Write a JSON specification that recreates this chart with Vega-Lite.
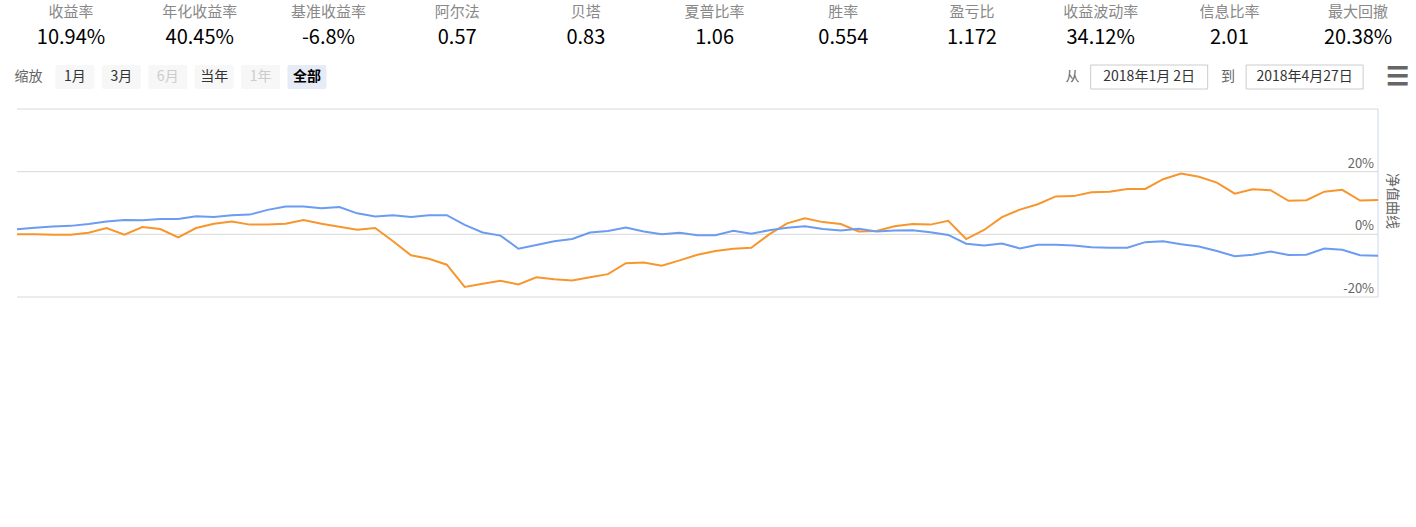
{
  "$schema": "https://vega.github.io/schema/vega-lite/v6.json",
  "padding": 0,
  "spacing": 0,
  "background": "white",
  "resolve": {"scale": {"color": "independent"}},
  "config": {
    "view": {"stroke": null},
    "font": "Noto Sans CJK SC",
    "text": {"font": "Noto Sans CJK SC"},
    "legend": {"labelFont": "Noto Sans CJK SC"}
  },
  "datasets": {
    "perf": [
      {"t":0,"s":0,"b":1.6,"h":0},{"t":1,"s":0,"b":2.1,"h":19},{"t":2,"s":-0.1,"b":2.5,"h":37},{"t":3,"s":-0.1,"b":2.7,"h":52},
      {"t":4,"s":0.5,"b":3.3,"h":66},{"t":5,"s":2,"b":4.1,"h":80},{"t":6,"s":-0.1,"b":4.6,"h":59},{"t":7,"s":2.3,"b":4.5,"h":63},
      {"t":8,"s":1.7,"b":4.9,"h":61},{"t":9,"s":-1,"b":4.9,"h":61},{"t":10,"s":2,"b":5.8,"h":66},{"t":11,"s":3.4,"b":5.5,"h":51},
      {"t":12,"s":4.1,"b":6.1,"h":64},{"t":13,"s":3.1,"b":6.3,"h":56},{"t":14,"s":3.1,"b":7.8,"h":54},{"t":15,"s":3.4,"b":8.9,"h":57},
      {"t":16,"s":4.6,"b":8.9,"h":48},{"t":17,"s":3.4,"b":8.3,"h":40},{"t":18,"s":2.4,"b":8.7,"h":59},{"t":19,"s":1.5,"b":6.7,"h":54},
      {"t":20,"s":2,"b":5.7,"h":54},{"t":21,"s":-2.2,"b":6.1,"h":63},{"t":22,"s":-6.7,"b":5.5,"h":55},{"t":23,"s":-7.8,"b":6.1,"h":66},
      {"t":24,"s":-9.7,"b":6.1,"h":59},{"t":25,"s":-16.8,"b":3,"h":66},{"t":26,"s":-15.8,"b":0.6,"h":57},{"t":27,"s":-14.8,"b":-0.4,"h":41},
      {"t":28,"s":-16,"b":-4.6,"h":52},{"t":29,"s":-13.7,"b":-3.4,"h":58},{"t":30,"s":-14.3,"b":-2.2,"h":59},{"t":31,"s":-14.7,"b":-1.5,"h":61},
      {"t":32,"s":-13.7,"b":0.6,"h":66},{"t":33,"s":-12.7,"b":1.1,"h":62},{"t":34,"s":-9.2,"b":2.2,"h":50},{"t":35,"s":-9,"b":0.9,"h":48},
      {"t":36,"s":-10,"b":0,"h":56},{"t":37,"s":-8.3,"b":0.5,"h":61},{"t":38,"s":-6.5,"b":-0.3,"h":53},{"t":39,"s":-5.3,"b":-0.3,"h":54},
      {"t":40,"s":-4.6,"b":1.1,"h":51},{"t":41,"s":-4.3,"b":0.2,"h":63},{"t":42,"s":0,"b":1.3,"h":67},{"t":43,"s":3.5,"b":2.1,"h":66},
      {"t":44,"s":5.1,"b":2.6,"h":51},{"t":45,"s":3.9,"b":1.7,"h":57},{"t":46,"s":3.3,"b":1.2,"h":43},{"t":47,"s":0.9,"b":1.8,"h":43},
      {"t":48,"s":1.1,"b":0.9,"h":63},{"t":49,"s":2.6,"b":1.2,"h":54},{"t":50,"s":3.3,"b":1.3,"h":65},{"t":51,"s":3.1,"b":0.7,"h":54},
      {"t":52,"s":4.3,"b":-0.2,"h":54},{"t":53,"s":-1.5,"b":-3,"h":54},{"t":54,"s":1.4,"b":-3.6,"h":60},{"t":55,"s":5.5,"b":-2.9,"h":51},
      {"t":56,"s":7.9,"b":-4.5,"h":64},{"t":57,"s":9.6,"b":-3.3,"h":60},{"t":58,"s":12.1,"b":-3.3,"h":59},{"t":59,"s":12.2,"b":-3.6,"h":65},
      {"t":60,"s":13.4,"b":-4.1,"h":54},{"t":61,"s":13.6,"b":-4.3,"h":65},{"t":62,"s":14.5,"b":-4.3,"h":65},{"t":63,"s":14.5,"b":-2.5,"h":53},
      {"t":64,"s":17.6,"b":-2.2,"h":63},{"t":65,"s":19.4,"b":-3.2,"h":65},{"t":66,"s":18.4,"b":-3.9,"h":66},{"t":67,"s":16.5,"b":-5.3,"h":64},
      {"t":68,"s":13,"b":-7,"h":65},{"t":69,"s":14.4,"b":-6.5,"h":63},{"t":70,"s":14.1,"b":-5.5,"h":62},{"t":71,"s":10.7,"b":-6.6,"h":61},
      {"t":72,"s":10.9,"b":-6.5,"h":50},{"t":73,"s":13.6,"b":-4.5,"h":46},{"t":74,"s":14.2,"b":-4.9,"h":57},{"t":75,"s":10.8,"b":-6.7,"h":61},
      {"t":76,"s":10.94,"b":-6.8,"h":65}
    ],
    "stats": [
      {"i":0,"name":"收益率","val":"10.94%"},{"i":1,"name":"年化收益率","val":"40.45%"},{"i":2,"name":"基准收益率","val":"-6.8%"},
      {"i":3,"name":"阿尔法","val":"0.57"},{"i":4,"name":"贝塔","val":"0.83"},{"i":5,"name":"夏普比率","val":"1.06"},
      {"i":6,"name":"胜率","val":"0.554"},{"i":7,"name":"盈亏比","val":"1.172"},{"i":8,"name":"收益波动率","val":"34.12%"},
      {"i":9,"name":"信息比率","val":"2.01"},{"i":10,"name":"最大回撤","val":"20.38%"}
    ],
    "toolbar": [
      {"slot":0,"label":"缩放","kind":"plain"},{"slot":2,"label":"1月","kind":"btn"},{"slot":4,"label":"3月","kind":"btn"},
      {"slot":6,"label":"6月","kind":"off"},{"slot":8,"label":"当年","kind":"btn"},{"slot":10,"label":"1年","kind":"off"},
      {"slot":12,"label":"全部","kind":"sel"},{"slot":45.0,"label":"从","kind":"plain"},{"slot":48.3,"label":"2018年1月 2日","kind":"box"},
      {"slot":51.7,"label":"到","kind":"plain"},{"slot":55.0,"label":"2018年4月27日","kind":"box"},{"slot":59.0,"label":"☰","kind":"menu"}
    ],
    "ticks": [
      {"t":4,"lab":"1月 8日"},{"t":9,"lab":"1月15日"},{"t":14,"lab":"1月22日"},{"t":19,"lab":"1月29日"},{"t":24,"lab":"2月 5日"},
      {"t":29,"lab":"2月12日"},{"t":34,"lab":"2月26日"},{"t":39,"lab":"3月 5日"},{"t":44,"lab":"3月12日"},{"t":49,"lab":"3月19日"},
      {"t":54,"lab":"3月26日"},{"t":62,"lab":"4月 9日"},{"t":67,"lab":"4月16日"},{"t":72,"lab":"4月23日"}
    ],
    "navticks": [
      {"t":9,"lab":"1月15日"},{"t":19,"lab":"1月29日"},{"t":29,"lab":"2月12日"},{"t":39,"lab":"3月 5日"},
      {"t":49,"lab":"3月19日"},{"t":59,"lab":"4月 2日"},{"t":67,"lab":"4月16日"}
    ]
  },
  "vconcat": [
    {
      "width": 1416, "height": 50,
      "data": {"name": "stats"},
      "encoding": {"x": {"field": "i", "type": "quantitative", "scale": {"domain": [-0.552, 10.45], "nice": false, "zero": false}, "axis": null}},
      "layer": [
        {"mark": {"type": "text", "dy": -13, "fontSize": 15, "color": "#888888"}, "encoding": {"text": {"field": "name"}}},
        {"mark": {"type": "text", "dy": 13, "fontSize": 20, "color": "#000000"}, "encoding": {"text": {"field": "val"}}}
      ]
    },
    {
      "width": 1416, "height": 58,
      "data": {"name": "toolbar"},
      "encoding": {
        "x": {"field": "slot", "type": "quantitative", "scale": {"domain": [-1.23, 59.8], "nice": false, "zero": false}, "axis": null},
        "y": {"datum": 27, "type": "quantitative", "scale": {"domain": [58, 0], "nice": false, "zero": false}, "axis": null},
        "text": {"field": "label"}
      },
      "layer": [
        {"transform": [{"filter": "datum.kind == 'btn' || datum.kind == 'off'"}], "mark": {"type": "rect", "width": 39, "height": 24, "fill": "#f7f7f7", "cornerRadius": 2}},
        {"transform": [{"filter": "datum.kind == 'sel'"}], "mark": {"type": "rect", "width": 39, "height": 24, "fill": "#e6ebf5", "cornerRadius": 2}},
        {"transform": [{"filter": "datum.kind == 'box'"}], "mark": {"type": "rect", "width": 117, "height": 24, "fill": "white", "stroke": "#cccccc", "strokeWidth": 1}},
        {"transform": [{"filter": "datum.kind == 'plain'"}], "mark": {"type": "text", "fontSize": 14, "color": "#666666"}},
        {"transform": [{"filter": "datum.kind == 'btn' || datum.kind == 'box'"}], "mark": {"type": "text", "fontSize": 14, "color": "#333333"}},
        {"transform": [{"filter": "datum.kind == 'off'"}], "mark": {"type": "text", "fontSize": 14, "color": "#cccccc"}},
        {"transform": [{"filter": "datum.kind == 'sel'"}], "mark": {"type": "text", "fontSize": 14, "color": "#000000", "fontWeight": "bold"}},
        {"transform": [{"filter": "datum.kind == 'menu'"}], "mark": {"type": "text", "fontSize": 26, "color": "#666666", "fontWeight": "bold"}}
      ]
    },
    {
      "width": 1416, "height": 188,
      "encoding": {
        "x": {"type": "quantitative", "scale": {"domain": [-0.949, 78.12], "nice": false, "zero": false}, "axis": null},
        "y": {"type": "quantitative", "scale": {"domain": [-20, 40], "nice": false, "zero": false}, "axis": null}
      },
      "layer": [
        {"data": {"values": [{"v": -20}, {"v": 0}, {"v": 20}, {"v": 40}]},
         "mark": {"type": "rule", "color": "#d8d8d8", "strokeWidth": 1},
         "encoding": {"x": {"datum": 0, "type": "quantitative"}, "x2": {"datum": 76}, "y": {"field": "v", "type": "quantitative"}}},
        {"data": {"values": [{}]},
         "mark": {"type": "rule", "color": "#ccd6eb", "strokeWidth": 1},
         "encoding": {"x": {"datum": 76, "type": "quantitative"}, "y": {"datum": -20, "type": "quantitative"}, "y2": {"datum": 40}}},
        {"data": {"name": "perf"},
         "transform": [
           {"fold": ["s", "b"], "as": ["key", "v"]},
           {"calculate": "datum.key == 's' ? '策略收益率' : '基准收益率'", "as": "series"}
         ],
         "mark": {"type": "line", "strokeWidth": 2},
         "encoding": {
           "x": {"field": "t", "type": "quantitative"},
           "y": {"field": "v", "type": "quantitative"},
           "color": {"field": "series", "type": "nominal",
             "scale": {"domain": ["策略收益率", "基准收益率", "相对收益率", "持仓占比"], "range": ["#f7962d", "#6b9cf2", "#cccccc", "#7df59c"]},
             "legend": {
               "orient": "none", "legendX": 478, "legendY": 505, "direction": "horizontal", "title": null,
               "symbolType": "stroke", "symbolStrokeWidth": 2, "symbolSize": 220, "labelFontSize": 13, "labelFontWeight": "bold",
               "labelColor": "#333333", "columnPadding": 30, "labelOffset": 8,
               "encode": {"labels": {"update": {"fill": {"signal": "datum.label == '相对收益率' ? '#cccccc' : '#333333'"}}}}
             }}
         }},
        {"data": {"values": [{"v": 20, "l": "20%"}, {"v": 0, "l": "0%"}, {"v": -20, "l": "-20%"}]},
         "mark": {"type": "text", "align": "right", "baseline": "alphabetic", "dy": -4, "fontSize": 13, "color": "#666666"},
         "encoding": {"x": {"datum": 75.78, "type": "quantitative"}, "y": {"field": "v", "type": "quantitative"}, "text": {"field": "l"}}},
        {"data": {"values": [{"l": "净值曲线"}]},
         "mark": {"type": "text", "angle": 90, "fontSize": 14, "color": "#666666"},
         "encoding": {"x": {"datum": 76.8, "type": "quantitative"}, "y": {"datum": 10.6, "type": "quantitative"}, "text": {"field": "l"}}}
      ]
    },
    {
      "width": 1416, "height": 112,
      "encoding": {
        "x": {"type": "quantitative", "scale": {"domain": [-0.949, 78.12], "nice": false, "zero": false}, "axis": null},
        "y": {"type": "quantitative", "scale": {"domain": [-111, 116.2], "nice": false, "zero": false}, "axis": null}
      },
      "layer": [
        {"data": {"values": [{}]},
         "mark": {"type": "rule", "color": "#d8d8d8"},
         "encoding": {"x": {"datum": 0, "type": "quantitative"}, "x2": {"datum": 76}, "y": {"datum": 100, "type": "quantitative"}}},
        {"data": {"values": [{}]},
         "mark": {"type": "rule", "color": "#ccd6eb"},
         "encoding": {"x": {"datum": 0, "type": "quantitative"}, "x2": {"datum": 76}, "y": {"datum": 0, "type": "quantitative"}}},
        {"data": {"values": [{}]},
         "mark": {"type": "rule", "color": "#ccd6eb"},
         "encoding": {"x": {"datum": 76, "type": "quantitative"}, "y": {"datum": 0, "type": "quantitative"}, "y2": {"datum": 100}}},
        {"data": {"name": "perf"},
         "mark": {"type": "line", "strokeWidth": 2, "color": "#7df59c"},
         "encoding": {"x": {"field": "t", "type": "quantitative"}, "y": {"field": "h", "type": "quantitative"}}},
        {"data": {"name": "ticks"},
         "mark": {"type": "rule", "color": "#ccd6eb"},
         "encoding": {"x": {"field": "t", "type": "quantitative"}, "y": {"datum": 0, "type": "quantitative"}, "y2": {"datum": -16}}},
        {"data": {"name": "ticks"},
         "mark": {"type": "text", "fontSize": 13, "color": "#666666"},
         "encoding": {"x": {"field": "t", "type": "quantitative"}, "y": {"datum": -48, "type": "quantitative"}, "text": {"field": "lab"}}},
        {"data": {"values": [{"l": "0%"}]},
         "mark": {"type": "text", "align": "right", "baseline": "alphabetic", "dy": -3, "fontSize": 13, "color": "#666666"},
         "encoding": {"x": {"datum": 75.78, "type": "quantitative"}, "y": {"datum": 0, "type": "quantitative"}, "text": {"field": "l"}}},
        {"data": {"values": [{"l": "持仓占比"}]},
         "mark": {"type": "text", "angle": 90, "fontSize": 14, "color": "#666666"},
         "encoding": {"x": {"datum": 76.8, "type": "quantitative"}, "y": {"datum": 51, "type": "quantitative"}, "text": {"field": "l"}}}
      ]
    },
    {
      "width": 1416, "height": 119,
      "encoding": {
        "x": {"type": "quantitative", "scale": {"domain": [-1.893, 79.33], "nice": false, "zero": false}, "axis": null},
        "y": {"type": "quantitative", "scale": {"domain": [-84.6, 36.1], "nice": false, "zero": false}, "axis": null}
      },
      "layer": [
        {"data": {"values": [{}]},
         "mark": {"type": "rect", "fill": "#f2f2f2"},
         "encoding": {"x": {"datum": -0.918, "type": "quantitative"}, "x2": {"datum": 77.15}, "y": {"datum": -40, "type": "quantitative"}, "y2": {"datum": -21.7}}},
        {"data": {"values": [{}]},
         "mark": {"type": "rect", "fill": "#cccccc"},
         "encoding": {"x": {"datum": 0, "type": "quantitative"}, "x2": {"datum": 76}, "y": {"datum": -40, "type": "quantitative"}, "y2": {"datum": -21.7}}},
        {"data": {"values": [{}]},
         "mark": {"type": "rect", "fill": "#d1d9ea"},
         "encoding": {"x": {"datum": 0, "type": "quantitative"}, "x2": {"datum": 76}, "y": {"datum": -21.7, "type": "quantitative"}, "y2": {"datum": 28}}},
        {"data": {"values": [{}]},
         "mark": {"type": "rule", "color": "#cccccc"},
         "encoding": {"x": {"datum": -0.918, "type": "quantitative"}, "x2": {"datum": 77.15}, "y": {"datum": 28, "type": "quantitative"}}},
        {"data": {"name": "navticks"},
         "mark": {"type": "rule", "color": "#bfc8dc"},
         "encoding": {"x": {"field": "t", "type": "quantitative"}, "y": {"datum": -21.7, "type": "quantitative"}, "y2": {"datum": 28}}},
        {"data": {"name": "navticks"},
         "mark": {"type": "text", "align": "left", "dx": 4, "fontSize": 13, "color": "#999999"},
         "encoding": {"x": {"field": "t", "type": "quantitative"}, "y": {"datum": -12.6, "type": "quantitative"}, "text": {"field": "lab"}}},
        {"data": {"name": "perf"},
         "mark": {"type": "line", "strokeWidth": 1.2, "color": "#3d68bd", "interpolate": "monotone"},
         "encoding": {"x": {"field": "t", "type": "quantitative"}, "y": {"field": "s", "type": "quantitative"}}},
        {"data": {"values": [{"t": 0}, {"t": 76}]},
         "mark": {"type": "rect", "width": 8, "height": 16, "fill": "#f2f2f2", "stroke": "#999999", "strokeWidth": 1},
         "encoding": {"x": {"field": "t", "type": "quantitative"}, "y": {"datum": 4.7, "type": "quantitative"}}},
        {"data": {"values": [{"t": 0, "l": "||"}, {"t": 76, "l": "||"}]},
         "mark": {"type": "text", "fontSize": 8, "color": "#999999"},
         "encoding": {"x": {"field": "t", "type": "quantitative"}, "y": {"datum": 4.7, "type": "quantitative"}, "text": {"field": "l"}}},
        {"data": {"values": [{"t": 38, "l": "III"}, {"t": -0.46, "l": "◀"}, {"t": 76.6, "l": "▶"}]},
         "mark": {"type": "text", "fontSize": 8, "color": "#333333"},
         "encoding": {"x": {"field": "t", "type": "quantitative"}, "y": {"datum": -30.8, "type": "quantitative"}, "text": {"field": "l"}}}
      ]
    }
  ]
}
